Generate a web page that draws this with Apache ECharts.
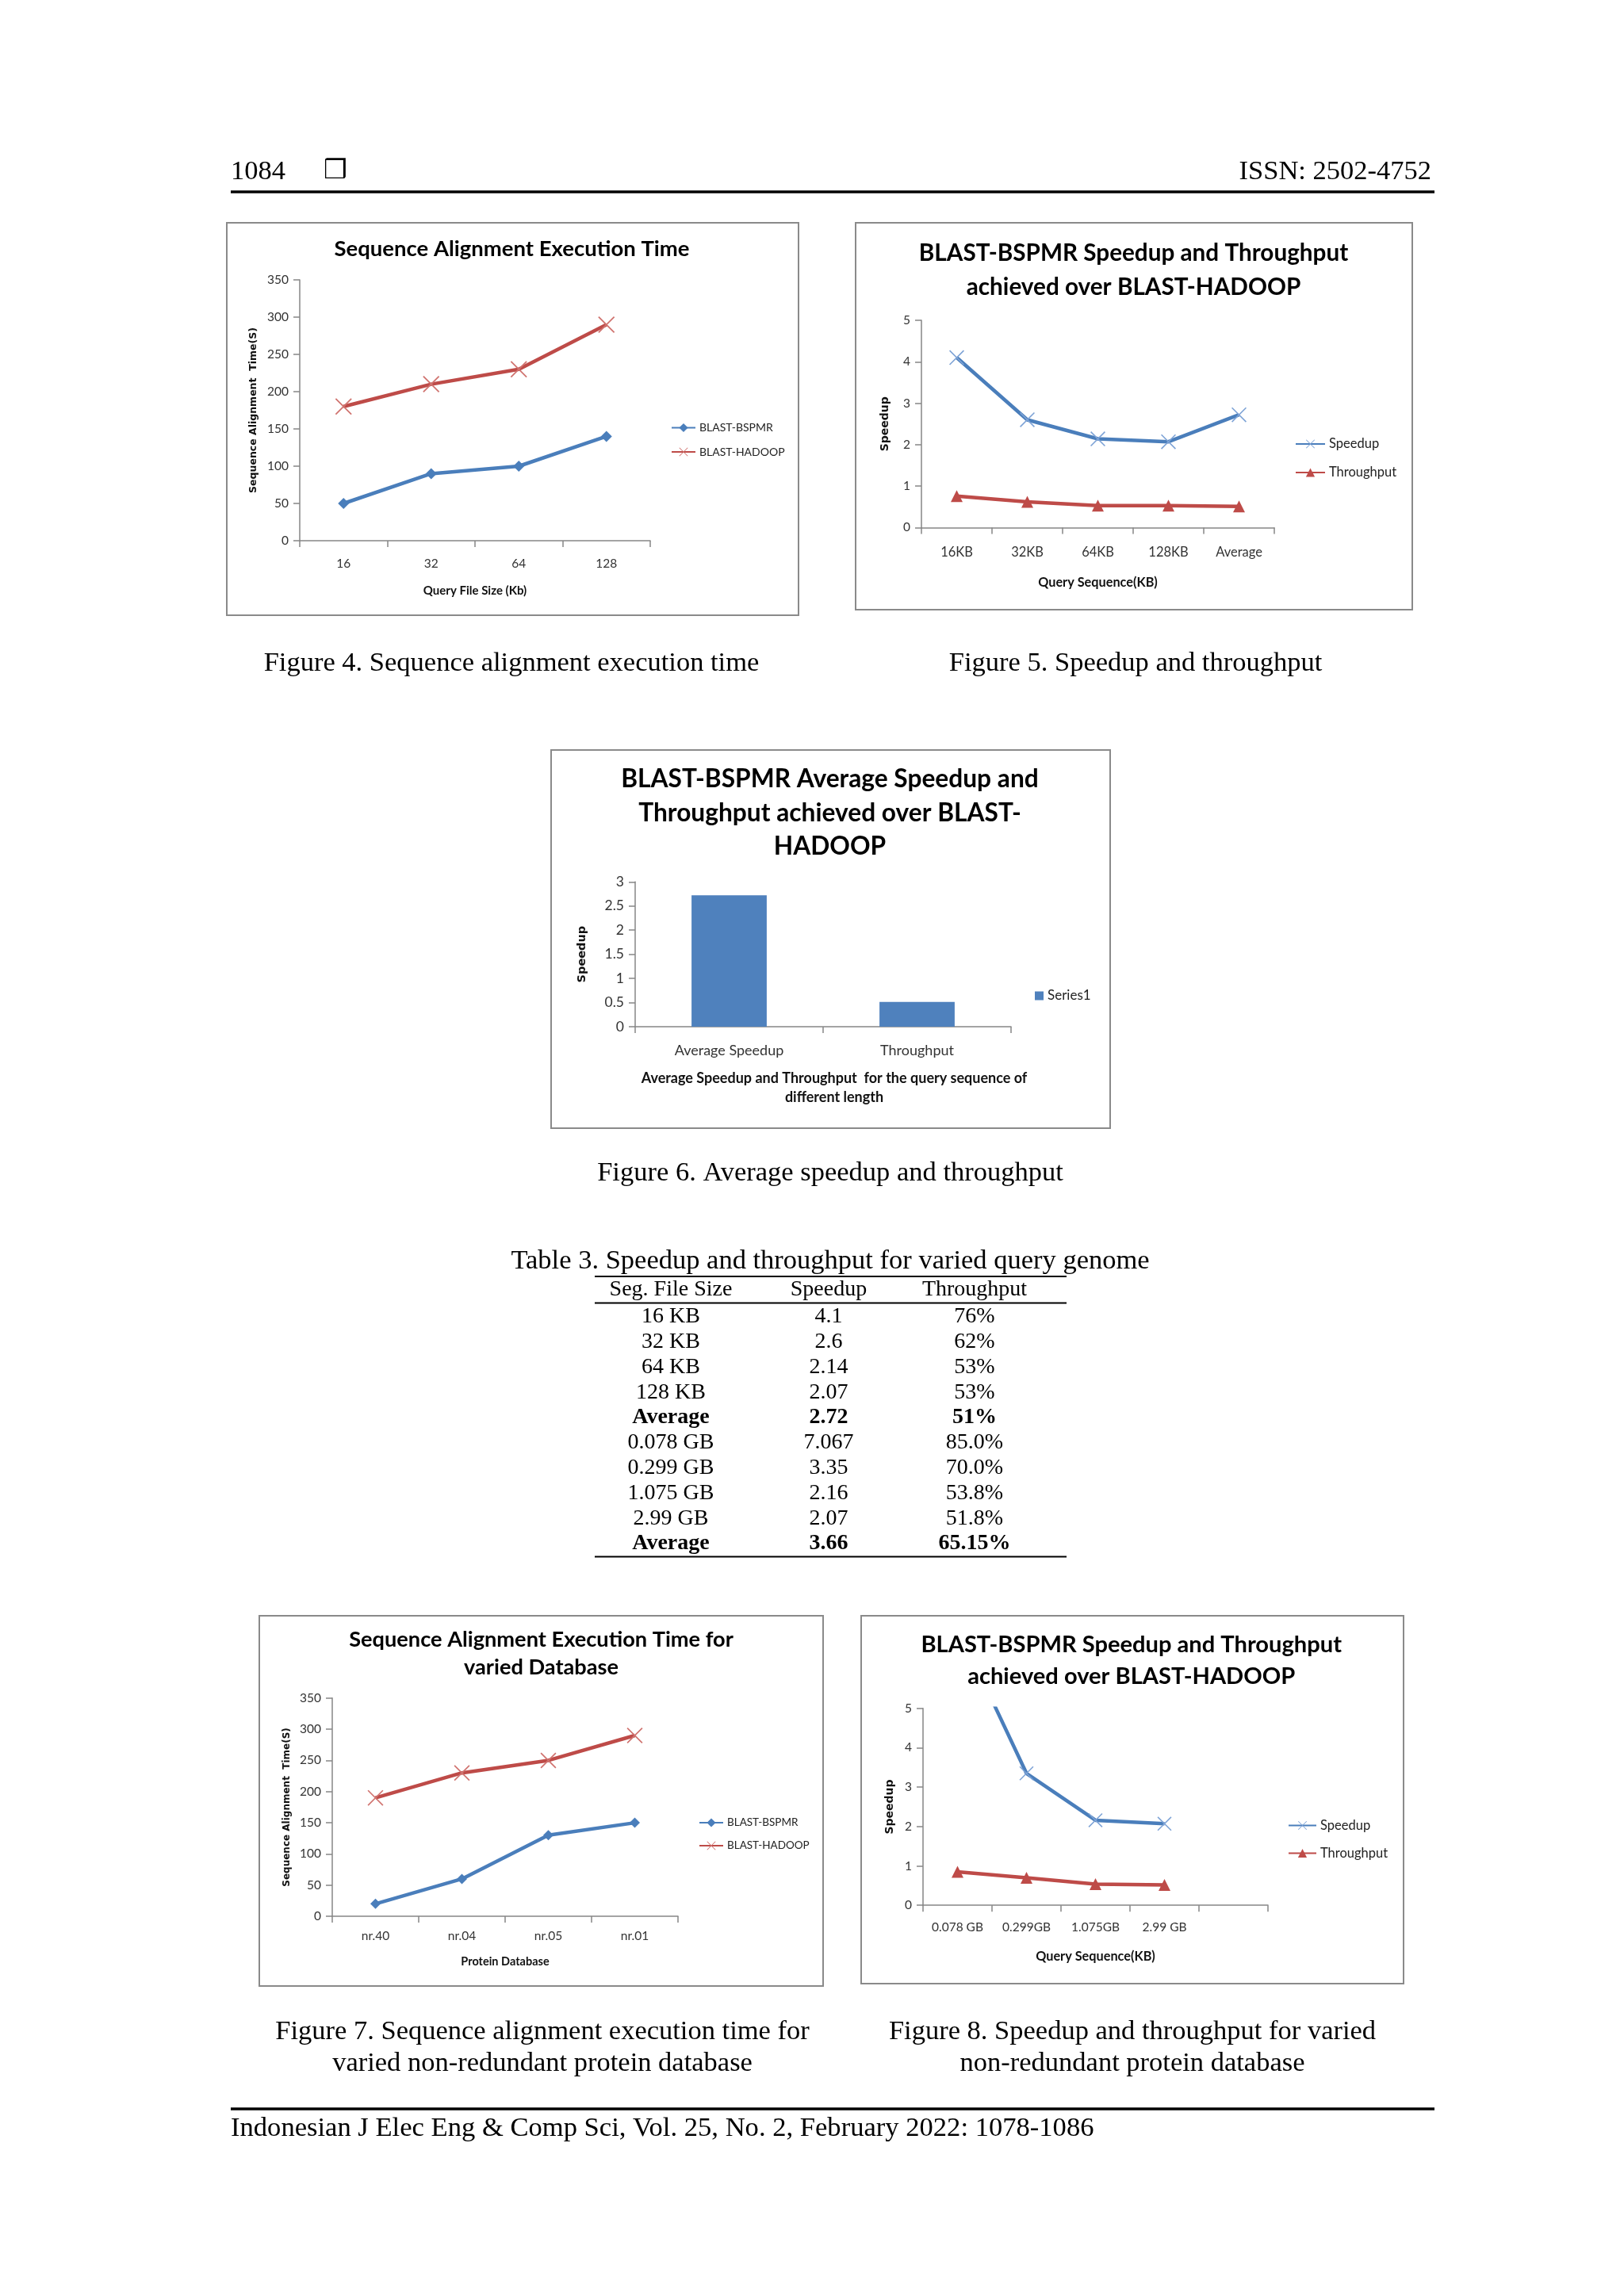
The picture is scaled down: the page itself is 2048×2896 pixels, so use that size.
<!DOCTYPE html>
<html><head><meta charset="utf-8">
<script src="https://cdn.jsdelivr.net/npm/echarts@6/dist/echarts.min.js"></script>
<style>html,body{margin:0;padding:0;background:#fff}#c{width:2048px;height:2896px}</style>
</head><body><div id="c"></div>
<script>
// ---------------- data ----------------
const fig4Categories = ['16', '32', '64', '128'];
const fig4Bspmr = [50, 90, 100, 140];
const fig4Hadoop = [180, 210, 230, 290];

const fig5Categories = ['16KB', '32KB', '64KB', '128KB', 'Average'];
const fig5Speedup = [4.1, 2.6, 2.14, 2.07, 2.72];
const fig5Throughput = [0.76, 0.62, 0.53, 0.53, 0.51];

const fig6Categories = ['Average Speedup', 'Throughput'];
const fig6Values = [2.72, 0.51];

const fig7Categories = ['nr.40', 'nr.04', 'nr.05', 'nr.01'];
const fig7Bspmr = [20, 60, 130, 150];
const fig7Hadoop = [190, 230, 250, 290];

const fig8Categories = ['0.078 GB', '0.299GB', '1.075GB', '2.99 GB', ''];
const fig8Speedup = [7.067, 3.35, 2.16, 2.07];
const fig8Throughput = [0.85, 0.70, 0.538, 0.518];

const tableHeader = ['Seg. File Size', 'Speedup', 'Throughput'];
const tableSize = ['16 KB', '32 KB', '64 KB', '128 KB', 'Average', '0.078 GB', '0.299 GB', '1.075 GB', '2.99 GB', 'Average'];
const tableSpeedup = ['4.1', '2.6', '2.14', '2.07', '2.72', '7.067', '3.35', '2.16', '2.07', '3.66'];
const tableThroughput = ['76%', '62%', '53%', '53%', '51%', '85.0%', '70.0%', '53.8%', '51.8%', '65.15%'];
const tableBold = [false, false, false, false, true, false, false, false, false, true];

// ---------------- styles ----------------
const SANS = 'Lato';
const VSANS = '"DejaVu Sans"';
const SERIF = '"Liberation Serif", "Times New Roman", serif';
const AX = '#868686';
const BLUE = '#4A7EBB', RED = '#BE4B48';
const XPATH = 'path://M0.6,0 L10,9.4 L9.4,10 L0,0.6 Z M9.4,0 L10,0.6 L0.6,10 L0,9.4 Z';

const chart = echarts.init(document.getElementById('c'), null, {renderer: 'canvas', width: 2048, height: 2896});

function xAx(gi, data, name, nameGap, margin, nameSize, labelSize, namePad) {
  return {
    type: 'category', gridIndex: gi, data: data, boundaryGap: true,
    axisLine: {show: true, lineStyle: {color: AX, width: 1.5}},
    axisTick: {show: true, length: 8, lineStyle: {color: AX, width: 1.5}},
    axisLabel: {fontFamily: SANS, fontSize: labelSize || 15.5, color: '#333', margin: margin, interval: 0},
    splitLine: {show: false},
    name: name, nameLocation: 'middle', nameGap: nameGap,
    nameTextStyle: {fontFamily: SANS, fontWeight: 'bold', fontSize: nameSize, color: '#111', lineHeight: 24,
      padding: namePad || 0}
  };
}
function yAx(gi, max, interval, name, nameGap, nameSize, labelSize) {
  return {
    type: 'value', gridIndex: gi, min: 0, max: max, interval: interval,
    axisLine: {show: true, lineStyle: {color: AX, width: 1.5}},
    axisTick: {show: true, length: 8, lineStyle: {color: AX, width: 1.5}},
    axisLabel: {fontFamily: SANS, fontSize: labelSize || 15.5, color: '#333', margin: 14},
    splitLine: {show: false},
    name: name, nameLocation: 'middle', nameRotate: 90, nameGap: nameGap,
    nameTextStyle: {fontFamily: VSANS, fontWeight: 'bold', fontSize: nameSize, color: '#111'}
  };
}
function legendAt(names, left, top, w, gap, size, icon) {
  const l = {
    data: names, orient: 'vertical', left: left, top: top,
    itemWidth: w, itemHeight: 14, itemGap: gap,
    textStyle: {fontFamily: SANS, fontSize: size, color: '#222'}
  };
  if (icon) { l.icon = icon; l.itemWidth = 11; l.itemHeight = 11; }
  return l;
}
function titleAt(text, x, top, size, lh) {
  return {text: text, left: x, top: top, textAlign: 'center',
    textStyle: {fontFamily: SANS, fontWeight: 'bold', fontSize: size, color: '#000', lineHeight: lh}};
}
function lineSeries(name, xi, data, symbol, size, lineColor, markColor) {
  return {type: 'line', name: name, xAxisIndex: xi, yAxisIndex: xi, data: data,
    symbol: symbol, symbolSize: size, showSymbol: true, clip: true,
    lineStyle: {color: lineColor, width: 4.5}, itemStyle: {color: markColor}, z: 3};
}

// ---------------- graphic: page text, boxes, table ----------------
const G = [];
function txt(t, x, y, size, opts) {
  opts = opts || {};
  G.push({type: 'text', silent: true, style: {
    text: t, x: x, y: y, fill: '#000',
    font: (opts.bold ? 'bold ' : '') + size + 'px ' + (opts.family || SERIF),
    align: opts.align || 'center', verticalAlign: 'middle',
    textAlign: opts.align || 'center', textVerticalAlign: 'middle',
    lineHeight: opts.lh || size * 1.2
  }});
}
function hline(x1, x2, y, w) {
  G.push({type: 'line', silent: true, shape: {x1: x1, y1: y, x2: x2, y2: y}, style: {stroke: '#000', lineWidth: w}});
}
function box(x1, y1, x2, y2) {
  G.push({type: 'rect', silent: true, shape: {x: x1, y: y1, width: x2 - x1, height: y2 - y1},
    style: {fill: 'none', stroke: '#8A8A8A', lineWidth: 2}, z: -1});
}

// header / footer
txt('1084', 291, 216.5, 34.5, {align: 'left'});
txt('\u2752', 408, 216, 33, {align: 'left', family: VSANS});
txt('ISSN: 2502-4752', 1805, 216.5, 34.5, {align: 'right'});
hline(291, 1809, 242, 3.5);
hline(291, 1809, 2660, 3.5);
txt('Indonesian J Elec Eng & Comp Sci, Vol. 25, No. 2, February 2022: 1078-1086', 291, 2685, 34.6, {align: 'left'});

// chart frames
box(286, 281, 1007, 776);
box(1079, 281, 1781, 769);
box(695, 946, 1400, 1423);
box(327, 2038, 1038, 2505);
box(1086, 2038, 1770, 2502);

// captions
txt('Figure 4. Sequence alignment execution time', 645, 836.5, 34.5);
txt('Figure 5. Speedup and throughput', 1432, 836.5, 34.5);
txt('Figure 6. Average speedup and throughput', 1047, 1480, 34.5);
txt('Figure 7. Sequence alignment execution time for\nvaried non-redundant protein database', 684, 2583, 34.5, {lh: 40.6});
txt('Figure 8. Speedup and throughput for varied\nnon-redundant protein database', 1428, 2583, 34.5, {lh: 40.6});

// table
txt('Table 3. Speedup and throughput for varied query genome', 1047, 1591, 34.5);
hline(750, 1345, 1610, 2);
hline(750, 1345, 1643.5, 2);
hline(750, 1345, 1963.5, 2);
const colX = [846, 1045, 1229];
tableHeader.forEach((h, j) => txt(h, colX[j], 1627, 28));
tableSize.forEach((v, i) => {
  const y = 1661 + i * 31.8;
  const o = {bold: tableBold[i]};
  txt(v, colX[0], y, 28, o);
  txt(tableSpeedup[i], colX[1], y, 28, o);
  txt(tableThroughput[i], colX[2], y, 28, o);
});

// ---------------- option ----------------
const option = {
  animation: false,
  backgroundColor: '#fff',
  title: [
    titleAt('Sequence Alignment Execution Time', 640.5, 292.5, 27.5, 34),
    titleAt('BLAST-BSPMR Speedup and Throughput\nachieved over BLAST-HADOOP', 1424.5, 293.3, 29.7, 42.5),
    titleAt('BLAST-BSPMR Average Speedup and\nThroughput achieved over BLAST-\nHADOOP', 1041.5, 956.5, 31.7, 42.6),
    titleAt('Sequence Alignment Execution Time for\nvaried Database', 677.5, 2045.8, 27.2, 35),
    titleAt('BLAST-BSPMR Speedup and Throughput\nachieved over BLAST-HADOOP', 1421.7, 2048.8, 29.1, 40.7)
  ],
  legend: [
    legendAt(['BLAST-BSPMR', 'BLAST-HADOOP'], 841, 527.5, 30, 16.5, 14),
    legendAt(['Speedup', 'Throughput'], 1628, 546.5, 37, 19, 16.5),
    legendAt(['Series1'], 1300, 1242.5, 11, 10, 17, 'rect'),
    legendAt(['BLAST-BSPMR', 'BLAST-HADOOP'], 876, 2287, 30, 15, 13.5),
    legendAt(['Speedup', 'Throughput'], 1619, 2289, 35, 18, 16.5)
  ],
  grid: [
    {left: 378, top: 353, width: 442, height: 329},
    {left: 1162, top: 404, width: 445, height: 261.4},
    {left: 801, top: 1112.3, width: 474, height: 182.6},
    {left: 419, top: 2141.8, width: 436, height: 275.3},
    {left: 1164, top: 2154.8, width: 435, height: 248.4}
  ],
  xAxis: [
    xAx(0, fig4Categories, 'Query File Size (Kb)', 51, 21, 15),
    xAx(1, fig5Categories, 'Query Sequence(KB)', 57, 23, 16.3, 16.5),
    xAx(2, fig6Categories, 'Average Speedup and Throughput  for the query sequence of\ndifferent length', 53.5, 21, 18, 18, [0, 0, 0, 28]),
    xAx(3, fig7Categories, 'Protein Database', 45, 17, 14.5),
    xAx(4, fig8Categories, 'Query Sequence(KB)', 52.4, 20, 16.3)
  ],
  yAxis: [
    yAx(0, 350, 50, 'Sequence Alignment  Time(S)', 52, 12.5),
    yAx(1, 5, 1, 'Speedup', 39, 14),
    yAx(2, 3, 0.5, 'Speedup', 59, 14.5, 17.5),
    yAx(3, 350, 50, 'Sequence Alignment  Time(S)', 51, 12),
    yAx(4, 5, 1, 'Speedup', 35, 14)
  ],
  series: [
    lineSeries('BLAST-BSPMR', 0, fig4Bspmr, 'diamond', 14, BLUE, BLUE),
    lineSeries('BLAST-HADOOP', 0, fig4Hadoop, XPATH, 21, RED, '#D0736F'),
    lineSeries('Speedup', 1, fig5Speedup, XPATH, 19, BLUE, '#7EA3D6'),
    lineSeries('Throughput', 1, fig5Throughput, 'triangle', 15, RED, RED),
    {type: 'bar', name: 'Series1', xAxisIndex: 2, yAxisIndex: 2, data: fig6Values,
      barWidth: '40%', itemStyle: {color: '#4F81BD'}},
    lineSeries('BLAST-BSPMR', 3, fig7Bspmr, 'diamond', 13, BLUE, BLUE),
    lineSeries('BLAST-HADOOP', 3, fig7Hadoop, XPATH, 20, RED, '#D0736F'),
    lineSeries('Speedup', 4, fig8Speedup, XPATH, 18, BLUE, '#7EA3D6'),
    lineSeries('Throughput', 4, fig8Throughput, 'triangle', 15, RED, RED)
  ],
  graphic: G
};
chart.setOption(option);
</script></body></html>
